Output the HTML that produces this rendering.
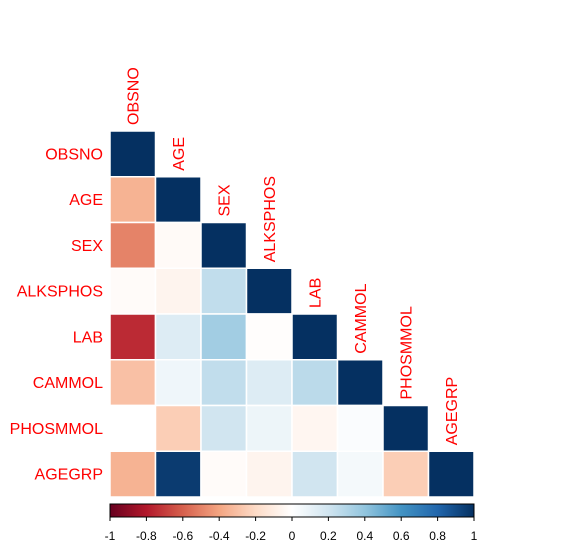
<!DOCTYPE html>
<html><head><meta charset="utf-8"><style>
body{margin:0;background:#fff}
svg text{font-family:"Liberation Sans",sans-serif}
</style></head><body>
<svg id="c" width="569" height="553" xmlns="http://www.w3.org/2000/svg"></svg>
<script>
const variables=["OBSNO","AGE","SEX","ALKSPHOS","LAB","CAMMOL","PHOSMMOL","AGEGRP"];
const lowerValues=[
 [1],
 [-0.35,1],
 [-0.5,-0.03,1],
 [-0.02,-0.06,0.25,1],
 [-0.75,0.15,0.35,-0.01,1],
 [-0.3,0.07,0.25,0.15,0.27,1],
 [0.0,-0.25,0.2,0.08,-0.05,0.02,1],
 [-0.35,0.96,-0.02,-0.06,0.2,0.05,-0.25,1]
];
const colorbarTicks=[-1,-0.8,-0.6,-0.4,-0.2,0,0.2,0.4,0.6,0.8,1];
const palette=["#67001F","#B2182B","#D6604D","#F4A582","#FDDBC7","#FFFFFF","#D1E5F0","#92C5DE","#4393C3","#2166AC","#053061"];
const NS="http://www.w3.org/2000/svg",svg=document.getElementById('c');
const x0=110,x1=474,y0=131,y1=497,n=variables.length,cw=(x1-x0)/n,ch=(y1-y0)/n;
function hex(h){return [1,3,5].map(i=>parseInt(h.substr(i,2),16));}
function col(v){const t=(v+1)/2*(palette.length-1);const i=Math.min(Math.floor(t),palette.length-2),f=t-i;
 const a=hex(palette[i]),b=hex(palette[i+1]);return 'rgb('+a.map((c,k)=>Math.round(c+(b[k]-c)*f)).join(',')+')';}
function mk(tag,at){const e=document.createElementNS(NS,tag);for(const k in at)e.setAttribute(k,at[k]);svg.appendChild(e);return e;}
const sx=v=>x0+(v+1)/2*(x1-x0);
lowerValues.forEach((row,i)=>{row.forEach((v,j)=>{
 const r=mk('rect',{x:x0+j*cw,y:y0+i*ch,width:cw,height:ch,fill:col(v),stroke:'#fff','stroke-width':1.5});
 
 
});});
variables.forEach((name,i)=>{
 const t=mk('text',{x:103,y:y0+i*ch+ch/2+5.5,'text-anchor':'end','font-size':16,fill:'#FF0000'});t.textContent=name;
 
 
 const cx=x0+i*cw+cw/2+5.5,cy=y0+i*ch-6;
 const u=mk('text',{x:cx,y:cy,transform:'rotate(-90 '+cx+' '+cy+')','font-size':16,fill:'#FF0000'});u.textContent=name;
 
 
});
const defs=mk('defs',{});const g=document.createElementNS(NS,'linearGradient');g.setAttribute('id','gr');defs.appendChild(g);
palette.forEach((c,i)=>{const s=document.createElementNS(NS,'stop');s.setAttribute('offset',i/(palette.length-1));s.setAttribute('stop-color',c);g.appendChild(s);});
const cb=mk('rect',{x:x0,y:504,width:x1-x0,height:13,fill:'url(#gr)',stroke:'#000','stroke-width':1});


colorbarTicks.forEach(v=>{
 mk('line',{x1:sx(v),x2:sx(v),y1:517,y2:521,stroke:'#000'});
 const t=mk('text',{x:sx(v),y:540,'text-anchor':'middle','font-size':12,fill:'#000'});t.textContent=String(v);
 
 
});
</script>
</body></html>
